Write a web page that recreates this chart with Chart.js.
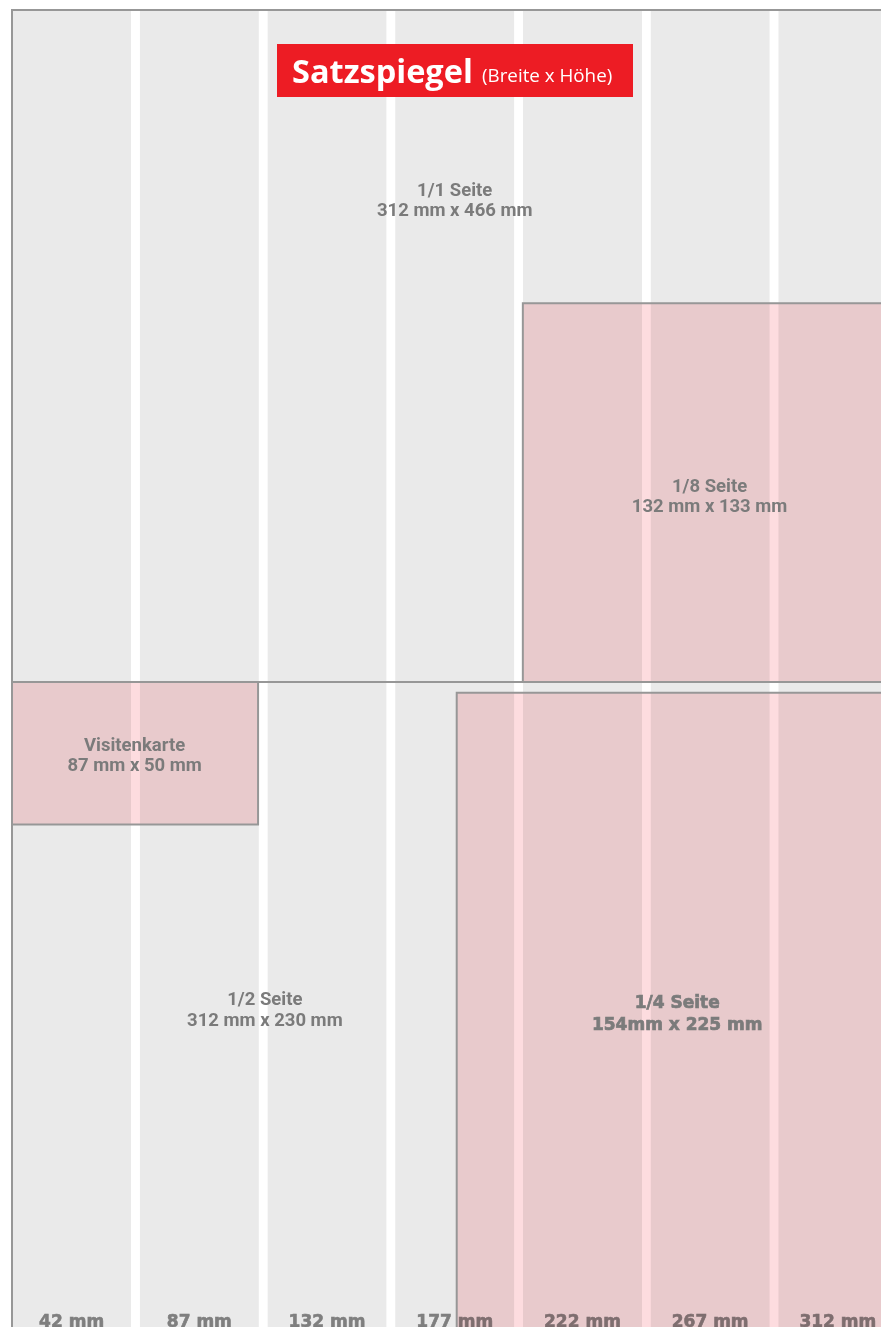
<!DOCTYPE html>
<html>
<head>
<meta charset="utf-8">
<script src="https://cdn.jsdelivr.net/npm/chart.js@4.4.1/dist/chart.umd.min.js"></script>
<style>
  html, body { margin: 0; padding: 0; background: #fff; overflow: hidden; }
  canvas { display: block; }
</style>
</head>
<body>
<canvas id="myChart" width="881" height="1327"></canvas>
<script>
// column grid (mm)
const columnStarts = [0, 45, 90, 135, 180, 225, 270];
const columnEnds = [42, 87, 132, 177, 222, 267, 312];
const columnLabels = ['42 mm', '87 mm', '132 mm', '177 mm', '222 mm', '267 mm', '312 mm'];
const columnLabelY = 3.4;

// ad formats (mm)
const formatNames = ['1/1 Seite', '1/8 Seite', 'Visitenkarte', '1/2 Seite', '1/4 Seite'];
const formatSizes = ['312 mm x 466 mm', '132 mm x 133 mm', '87 mm x 50 mm', '312 mm x 230 mm', '154mm x 225 mm'];
const formatLeft = [0, 180, 0, 0, 156.7];
const formatRight = [312, 312, 86.7, 312, 312];
const formatBottom = [0, 230, 180, 0, 0];
const formatTop = [466, 363, 230, 230, 226.3];
const formatFilled = [false, true, true, false, true];
const labelX = [156, 245.8, 43.2, 89.1, 234.4];
const labelY = [399.6, 295.7, 204.7, 115.3, 113.8];

const datasets = [];
const outlineIdx = new Set();

// outlines on top
formatNames.forEach((name, i) => {
  outlineIdx.add(datasets.length);
  datasets.push({
    label: name + ' Rahmen',
    data: [
      {x: formatLeft[i], y: formatBottom[i]},
      {x: formatLeft[i], y: formatTop[i]},
      {x: formatRight[i], y: formatTop[i]},
      {x: formatRight[i], y: formatBottom[i]},
      {x: formatLeft[i], y: formatBottom[i]}
    ],
    borderColor: '#979797',
    borderWidth: 2,
    fill: false,
    pointRadius: 0,
    clip: 3,
    order: 1
  });
});

// pink areas
formatNames.forEach((name, i) => {
  if (!formatFilled[i]) return;
  datasets.push({
    label: name,
    data: [{x: formatLeft[i], y: formatTop[i]}, {x: formatRight[i], y: formatTop[i]}],
    backgroundColor: '#fddcdf',
    borderWidth: 0,
    fill: {value: formatBottom[i]},
    pointRadius: 0,
    order: 2
  });
});

// grey columns
columnLabels.forEach((lab, i) => {
  datasets.push({
    label: lab,
    data: [{x: columnStarts[i], y: 466}, {x: columnEnds[i], y: 466}],
    backgroundColor: '#eaeaea',
    borderWidth: 0,
    fill: {value: 0},
    pointRadius: 0,
    order: 3
  });
});

const layoutPlugin = {
  id: 'layoutPlugin',
  beforeDatasetsDraw(chart) {
    const ctx = chart.ctx;
    const {x, y} = chart.scales;
    // column labels sit under the columns and boxes
    ctx.save();
    ctx.font = '700 17px "DejaVu Sans"';
    ctx.fillStyle = '#8a8a8a';
    ctx.strokeStyle = '#8a8a8a';
    ctx.lineWidth = 0.6;
    ctx.textAlign = 'center';
    ctx.textBaseline = 'alphabetic';
    columnLabels.forEach((lab, i) => {
      const px = x.getPixelForValue((columnStarts[i] + columnEnds[i]) / 2);
      const py = y.getPixelForValue(columnLabelY);
      ctx.fillText(lab, px, py);
      ctx.strokeText(lab, px, py);
    });
    ctx.restore();
    ctx.save();
    ctx.globalCompositeOperation = 'multiply';
  },
  beforeDatasetDraw(chart, args) {
    if (outlineIdx.has(args.index)) {
      chart.ctx.save();
      chart.ctx.globalCompositeOperation = 'source-over';
    }
  },
  afterDatasetDraw(chart, args) {
    if (outlineIdx.has(args.index)) chart.ctx.restore();
  },
  afterDatasetsDraw(chart) {
    const ctx = chart.ctx;
    const {x, y} = chart.scales;
    ctx.restore();

    ctx.save();
    ctx.textAlign = 'center';
    ctx.textBaseline = 'alphabetic';
    ctx.fillStyle = '#7b7b7b';
    ctx.strokeStyle = '#7b7b7b';
    formatNames.forEach((name, i) => {
      const px = x.getPixelForValue(labelX[i]);
      const py = y.getPixelForValue(labelY[i]);
      if (name === '1/4 Seite') {
        ctx.font = '700 17px "DejaVu Sans"';
        ctx.lineWidth = 0.7;
        ctx.fillText(name, px, py - 4.7);
        ctx.strokeText(name, px, py - 4.7);
        ctx.fillText(formatSizes[i], px, py + 17);
        ctx.strokeText(formatSizes[i], px, py + 17);
      } else {
        ctx.font = '700 18.5px Roboto';
        ctx.fillText(name, px, py - 3.5);
        ctx.fillText(formatSizes[i], px, py + 17);
      }
    });
    ctx.restore();

    // title
    ctx.save();
    ctx.fillStyle = '#ed1c24';
    ctx.fillRect(277, 44, 356, 53);
    ctx.fillStyle = '#ffffff';
    ctx.textAlign = 'left';
    ctx.textBaseline = 'alphabetic';
    ctx.font = '700 32.5px "Open Sans"';
    ctx.fillText('Satzspiegel', 292, 82.5);
    ctx.font = '400 18.8px "Open Sans"';
    ctx.fillText('(Breite x Höhe)', 482, 82);
    ctx.restore();
  }
};

const config = {
  type: 'line',
  data: {datasets: datasets},
  options: {
    responsive: false,
    animation: false,
    devicePixelRatio: 1,
    layout: {padding: {left: 12, top: 10, right: 0, bottom: 0}},
    scales: {
      x: {type: 'linear', min: 0, max: 306.2, display: false},
      y: {type: 'linear', min: 3.56, max: 466, display: false}
    },
    elements: {line: {tension: 0}},
    plugins: {
      legend: {display: false},
      tooltip: {enabled: false}
    },
    events: []
  },
  plugins: [layoutPlugin]
};

const myChart = new Chart(document.getElementById('myChart'), config);
</script>
</body>
</html>
